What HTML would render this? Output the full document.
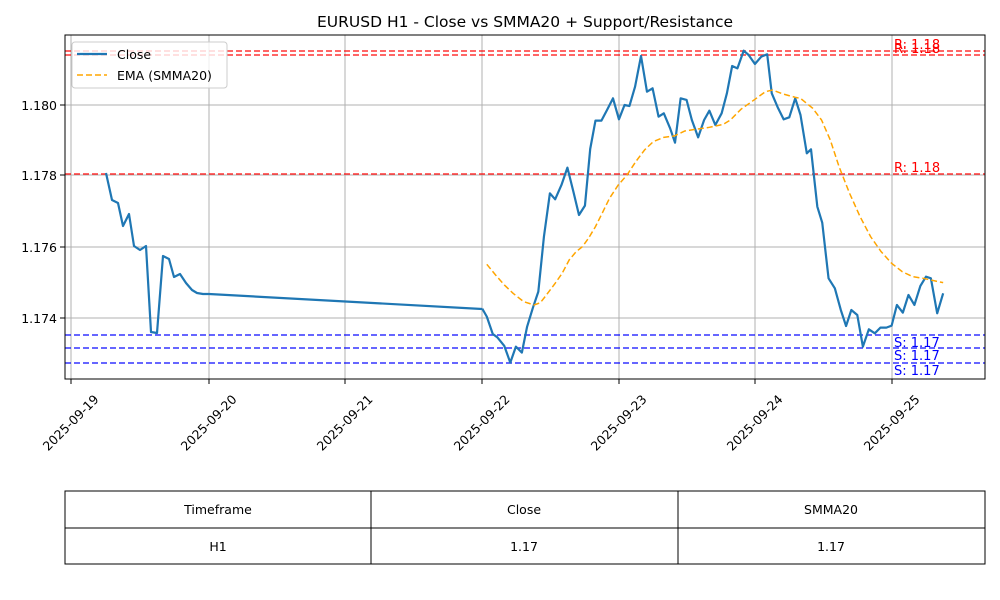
<!DOCTYPE html>
<html><head><meta charset="utf-8"><style>body{margin:0;background:#fff}svg{display:block;font-family:"DejaVu Sans","Liberation Sans",sans-serif}</style></head><body>
<svg width="1000" height="600" viewBox="0 0 1000 600" xmlns="http://www.w3.org/2000/svg">
<rect width="1000" height="600" fill="#fff"/>
<text x="525" y="27" font-size="15.5" text-anchor="middle">EURUSD H1 - Close vs SMMA20 + Support/Resistance</text>
<g stroke="#b0b0b0" stroke-width="1">
<line x1="71" y1="35" x2="71" y2="379"/><line x1="209" y1="35" x2="209" y2="379"/><line x1="345" y1="35" x2="345" y2="379"/><line x1="482" y1="35" x2="482" y2="379"/><line x1="619" y1="35" x2="619" y2="379"/><line x1="755" y1="35" x2="755" y2="379"/><line x1="892" y1="35" x2="892" y2="379"/>
<line x1="65" y1="105" x2="985" y2="105"/><line x1="65" y1="175" x2="985" y2="175"/><line x1="65" y1="247" x2="985" y2="247"/><line x1="65" y1="318" x2="985" y2="318"/>
</g>
<g stroke-width="1.5" stroke-dasharray="6,3" opacity="0.8">
<line x1="65" y1="51" x2="985" y2="51" stroke="red"/><line x1="65" y1="55" x2="985" y2="55" stroke="red"/><line x1="65" y1="174" x2="985" y2="174" stroke="red"/>
<line x1="65" y1="335" x2="985" y2="335" stroke="blue"/><line x1="65" y1="348" x2="985" y2="348" stroke="blue"/><line x1="65" y1="363" x2="985" y2="363" stroke="blue"/>
</g>
<g font-size="13">
<text x="894" y="49" fill="red">R: 1.18</text><text x="894" y="53" fill="red">R: 1.18</text><text x="894" y="172" fill="red">R: 1.18</text>
<text x="894" y="347" fill="blue">S: 1.17</text><text x="894" y="360" fill="blue">S: 1.17</text><text x="894" y="375" fill="blue">S: 1.17</text>
</g>
<polyline fill="none" stroke="#1f77b4" stroke-width="2.2" stroke-linejoin="round" points="106,173 112,200 118,203 123,226 129,214 134,246 140,250 146,246 151,332 157,333 163,256 169,259 174,277 180,274 186,283 192,290 197,293 203,294 209,294 482,309"/>
<g transform="translate(450,30) scale(0.3505,0.3333)">
<polyline fill="none" stroke="#1f77b4" stroke-width="2.2" vector-effect="non-scaling-stroke" stroke-linejoin="round" points="92,836 105,860 122,912 135,922 155,948 172,998 188,950 205,968 220,890 236,835 252,785 268,620 285,490 300,508 318,465 335,413 352,485 368,555 385,527 400,357 415,272 432,272 448,240 465,205 482,268 498,225 512,228 528,170 545,78 562,185 578,175 595,260 610,250 628,295 642,338 658,205 675,210 690,270 708,322 725,270 740,242 757,285 775,250 790,190 805,108 820,115 838,62 852,75 870,102 888,80 905,73 918,190 935,232 952,268 968,262 985,205 1000,255 1018,370 1030,358 1048,530 1062,578 1080,745 1098,775 1115,840 1130,888 1145,840 1162,855 1178,950 1195,898 1212,910 1228,893 1245,893 1260,887 1275,825 1292,848 1308,795 1325,825 1342,768 1358,740 1372,745 1390,850 1407,790"/>
<polyline fill="none" stroke="orange" stroke-width="1.5" stroke-dasharray="6,3" vector-effect="non-scaling-stroke" points="105,703 130,735 155,765 180,790 210,815 240,825 258,818 275,795 300,760 320,730 340,690 360,665 378,650 395,625 415,590 435,548 455,505 480,465 505,435 530,395 555,360 580,335 610,322 640,318 670,303 700,298 740,292 780,283 800,270 830,238 870,208 900,185 920,180 950,192 985,202 1000,205 1035,235 1060,270 1085,330 1110,410 1140,490 1170,560 1200,620 1230,665 1260,700 1290,725 1320,740 1350,745 1380,752 1407,758"/>
</g>
<rect x="65" y="35" width="920" height="344" fill="none" stroke="#000" stroke-width="1"/>
<g stroke="#000"><line x1="60" y1="105" x2="65" y2="105"/><line x1="60" y1="175" x2="65" y2="175"/><line x1="60" y1="247" x2="65" y2="247"/><line x1="60" y1="318" x2="65" y2="318"/>
<line x1="71" y1="379" x2="71" y2="384"/><line x1="209" y1="379" x2="209" y2="384"/><line x1="345" y1="379" x2="345" y2="384"/><line x1="482" y1="379" x2="482" y2="384"/><line x1="619" y1="379" x2="619" y2="384"/><line x1="755" y1="379" x2="755" y2="384"/><line x1="892" y1="379" x2="892" y2="384"/></g>
<g font-size="12.5" text-anchor="end"><text x="57" y="110">1.180</text><text x="57" y="180">1.178</text><text x="57" y="252">1.176</text><text x="57" y="323">1.174</text></g>
<g font-size="12.5" text-anchor="middle">
<text transform="translate(71,423) rotate(-45)" y="4">2025-09-19</text>
<text transform="translate(209,423) rotate(-45)" y="4">2025-09-20</text>
<text transform="translate(345,423) rotate(-45)" y="4">2025-09-21</text>
<text transform="translate(482,423) rotate(-45)" y="4">2025-09-22</text>
<text transform="translate(619,423) rotate(-45)" y="4">2025-09-23</text>
<text transform="translate(755,423) rotate(-45)" y="4">2025-09-24</text>
<text transform="translate(892,423) rotate(-45)" y="4">2025-09-25</text>
</g>
<rect x="72" y="42" width="155" height="46" rx="3" fill="#fff" fill-opacity="0.8" stroke="#ccc"/>
<line x1="77" y1="54" x2="107" y2="54" stroke="#1f77b4" stroke-width="2.2"/>
<line x1="77" y1="75" x2="107" y2="75" stroke="orange" stroke-width="1.5" stroke-dasharray="6,3"/>
<text x="117" y="59" font-size="12.5">Close</text><text x="117" y="80" font-size="12.5">EMA (SMMA20)</text>
<g stroke="#000" fill="none"><rect x="65" y="491" width="920" height="73"/><line x1="65" y1="528" x2="985" y2="528"/><line x1="371" y1="491" x2="371" y2="564"/><line x1="678" y1="491" x2="678" y2="564"/></g>
<g font-size="12.5" text-anchor="middle"><text x="218" y="514">Timeframe</text><text x="524" y="514">Close</text><text x="831" y="514">SMMA20</text>
<text x="218" y="551">H1</text><text x="524" y="551">1.17</text><text x="831" y="551">1.17</text></g>
</svg>
</body></html>
